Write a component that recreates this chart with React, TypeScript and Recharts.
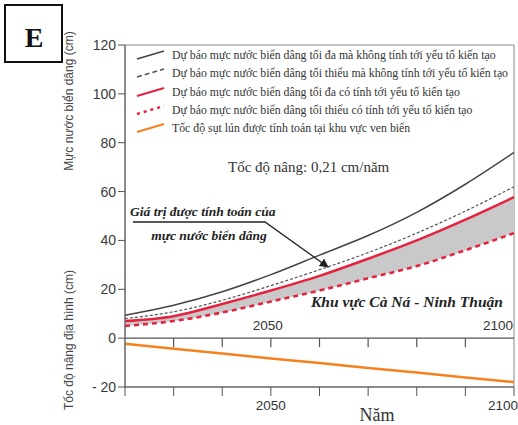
import React from 'react';
import { ComposedChart, Line, Area, XAxis, YAxis, ReferenceLine, ReferenceArea, ReferenceDot } from 'recharts';

// years on the x axis, one point per decade
const years = [2020, 2030, 2040, 2050, 2060, 2070, 2080, 2090, 2100];
// sea level rise scenarios (cm)
const maxNoTectonic = [9.4, 13.5, 19, 26, 34, 42, 51.5, 63, 76];
const minNoTectonic = [8, 10.8, 15.5, 21.5, 28, 35, 43, 52, 62];
const maxTectonic = [7, 9, 14, 19.5, 25.5, 32.5, 40, 48.5, 57.7];
const minTectonic = [5, 7, 10.5, 15, 19.5, 24.5, 29.5, 36, 43];
// subsidence of the coast (cm)
const subsidence = [-2.3, -4.3, -6.3, -8.3, -10.2, -12.2, -14.1, -16.1, -18];

const yTicks = [-20, 0, 20, 40, 60, 80, 100, 120];
const midTicks = [2030, 2040, 2050, 2060, 2070, 2080, 2090];
const labelledYears = [2050, 2100];

const legendLabels = [
  'Dự báo mực nước biển dâng tối đa mà không tính tới yếu tố kiến tạo',
  'Dự báo mực nước biển dâng tối thiểu mà không tính tới yếu tố kiến tạo',
  'Dự báo mực nước biển dâng tối đa có tính tới yếu tố kiến tạo',
  'Dự báo mực nước biển dâng tối thiểu có tính tới yếu tố kiến tạo',
  'Tốc độ sụt lún được tính toán tại khu vực ven biển',
];

const RED = '#e5223f';
const ORANGE = '#f5821f';
const SANS = '"Liberation Sans", Arial, sans-serif';
const SERIF = '"Liberation Serif", "Times New Roman", serif';

const data = years.map((year, i) => ({
  year,
  maxNo: maxNoTectonic[i],
  minNo: minNoTectonic[i],
  maxT: maxTectonic[i],
  minT: minTectonic[i],
  band: [minTectonic[i], maxTectonic[i]],
  sub: subsidence[i],
}));

const legendStyles = [
  { stroke: '#444', width: 1.6, dash: undefined },
  { stroke: '#555', width: 1.6, dash: '5 3' },
  { stroke: RED, width: 2.2, dash: undefined },
  { stroke: RED, width: 2.4, dash: '3 4' },
  { stroke: ORANGE, width: 2.2, dash: undefined },
];
const legendRows = [55, 73, 92, 110, 128];

const BottomTick = (props: any) => {
  const { x, y, payload } = props;
  if (!labelledYears.includes(payload.value)) return null;
  const end = payload.value === 2100;
  return (
    <text x={end ? x + 4 : x} y={y} dy="0.85em" textAnchor={end ? 'end' : 'middle'} fill="#333" fontSize={13.5} fontFamily={SANS}>
      {payload.value}
    </text>
  );
};

const MidLabel = (props: any) => {
  const { viewBox, text, anchor } = props;
  if (!viewBox) return null;
  const x = viewBox.x + (viewBox.width || 0) / 2;
  const y = viewBox.y + (viewBox.height || 0) / 2;
  return (
    <text x={anchor === 'end' ? x - 1 : x - 3} y={y - 8} textAnchor={anchor} fill="#333" fontSize={13.5} fontFamily={SANS}>
      {text}
    </text>
  );
};

export default function App() {
  return (
    <div style={{ position: 'absolute', left: 0, top: 0, width: 518, height: 425, background: '#fff' }}>
      <ComposedChart width={518} height={425} data={data} margin={{ top: 45, right: 4, bottom: 8, left: 0 }}>
        <XAxis
          dataKey="year"
          type="number"
          domain={[2020, 2100]}
          ticks={years}
          height={30}
          tickSize={9}
          tickMargin={3}
          stroke="#555"
          tick={<BottomTick />}
          interval={0}
        />
        <YAxis
          type="number"
          domain={[-20, 120]}
          ticks={yTicks}
          width={125}
          tickSize={7}
          stroke="#555"
          interval={0}
          tick={{ fill: '#3a3a3a', fontSize: 14, fontFamily: SANS }}
          tickFormatter={(v: number) => (v < 0 ? `- ${-v}` : String(v))}
        />
        <ReferenceArea x1={2020} x2={2100} y1={-20} y2={120} fill="none" stroke="#888" strokeWidth={1} />
        <Area dataKey="band" type="monotone" fill="#c9c9c9" fillOpacity={1} stroke="none" isAnimationActive={false} activeDot={false} />
        <ReferenceLine y={0} stroke="#555" strokeWidth={1.2} />
        {midTicks.map((t) => (
          <ReferenceLine key={t} segment={[{ x: t, y: 0 }, { x: t, y: -3.7 }]} stroke="#555" strokeWidth={1.2} />
        ))}
        <ReferenceDot x={2050} y={0} r={0} fill="none" stroke="none" label={<MidLabel text="2050" anchor="middle" />} />
        <ReferenceDot x={2100} y={0} r={0} fill="none" stroke="none" label={<MidLabel text="2100" anchor="end" />} />
        <Line dataKey="maxNo" type="monotone" stroke="#444" strokeWidth={1.5} dot={false} activeDot={false} isAnimationActive={false} />
        <Line dataKey="minNo" type="monotone" stroke="#555" strokeWidth={1.2} strokeDasharray="3 2" dot={false} activeDot={false} isAnimationActive={false} />
        <Line dataKey="maxT" type="monotone" stroke={RED} strokeWidth={2.5} dot={false} activeDot={false} isAnimationActive={false} />
        <Line dataKey="minT" type="monotone" stroke={RED} strokeWidth={2.6} strokeDasharray="5 4" dot={false} activeDot={false} isAnimationActive={false} />
        <Line dataKey="sub" type="linear" stroke={ORANGE} strokeWidth={2.5} dot={false} activeDot={false} isAnimationActive={false} />
      </ComposedChart>

      <svg width={518} height={425} style={{ position: 'absolute', left: 0, top: 0, pointerEvents: 'none' }}>
        <defs>
          <marker id="arr" viewBox="0 0 10 10" refX="9" refY="5" markerWidth="7" markerHeight="7" orient="auto">
            <path d="M0,0 L10,5 L0,10 z" fill="#222" />
          </marker>
        </defs>
        {/* panel letter */}
        <rect x={5} y={5} width={57} height={57} fill="#fff" stroke="#111" strokeWidth={2} />
        <text x={34} y={47} textAnchor="middle" fontFamily={SERIF} fontWeight="bold" fontSize={28} fill="#111">E</text>

        {/* axis titles */}
        <text transform="translate(69,101) rotate(-90)" textAnchor="middle" dominantBaseline="central" fontFamily={SANS} fontSize={12} fill="#444">
          Mực nước biển dâng (cm)
        </text>
        <text transform="translate(69,340) rotate(-90)" textAnchor="middle" dominantBaseline="central" fontFamily={SANS} fontSize={12} fill="#444">
          Tốc độ nâng địa hình (cm)
        </text>

        {/* legend */}
        {legendLabels.map((label, i) => {
          const y = legendRows[i];
          const s = legendStyles[i];
          return (
            <g key={i}>
              <line x1={137} y1={y + 4} x2={164} y2={y - 4} stroke={s.stroke} strokeWidth={s.width} strokeDasharray={s.dash} />
              <text x={172} y={y + 4} fontFamily={SERIF} fontSize={11.8} fill="#333">{label}</text>
            </g>
          );
        })}

        {/* annotations */}
        <text x={228} y={172} fontFamily={SERIF} fontSize={15} fill="#333">Tốc độ nâng: 0,21 cm/năm</text>
        <text x={130} y={216} fontFamily={SERIF} fontSize={13.5} fontWeight="bold" fontStyle="italic" fill="#222">Giá trị được tính toán của</text>
        <text x={209} y={240} textAnchor="middle" fontFamily={SERIF} fontSize={13.5} fontWeight="bold" fontStyle="italic" fill="#222">mực nước biển dâng</text>
        <path d="M133 222 H265 L328 267" fill="none" stroke="#222" strokeWidth={1.3} markerEnd="url(#arr)" />
        <text x={311} y={307} fontFamily={SERIF} fontSize={15.5} fontWeight="bold" fontStyle="italic" fill="#222">Khu vực Cà Ná - Ninh Thuận</text>
        <text x={377} y={421} textAnchor="middle" fontFamily={SERIF} fontSize={18} fill="#333">Năm</text>
      </svg>
    </div>
  );
}
